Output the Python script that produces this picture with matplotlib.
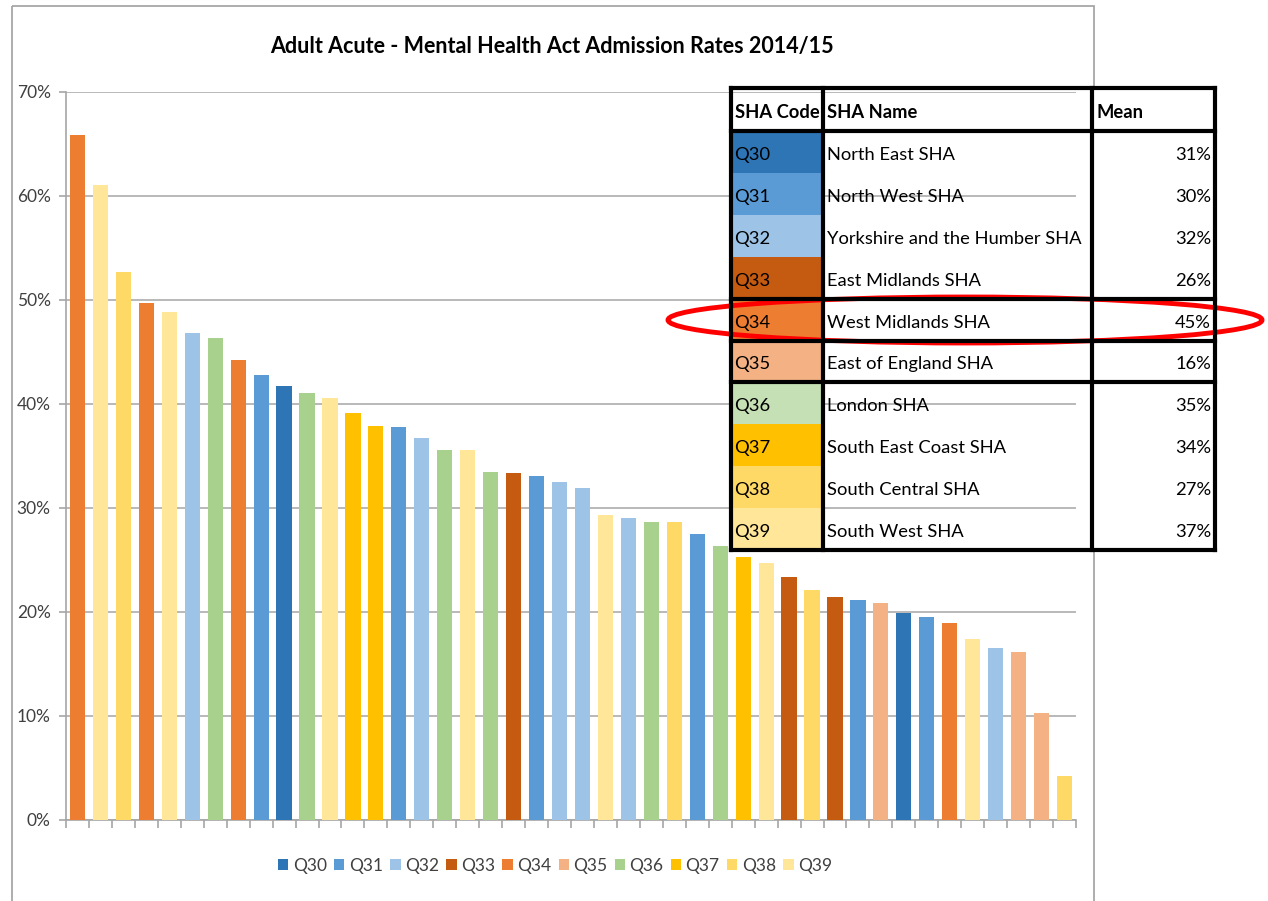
import matplotlib.pyplot as plt
from matplotlib.patches import Patch, Rectangle, Ellipse

plt.rcParams['font.family'] = ['Lato', 'DejaVu Sans']

# data ##########
bar_codes = ['Q34', 'Q39', 'Q38', 'Q34', 'Q39', 'Q32', 'Q36', 'Q34', 'Q31', 'Q30',
             'Q36', 'Q39', 'Q37', 'Q37', 'Q31', 'Q32', 'Q36', 'Q39', 'Q36', 'Q33',
             'Q31', 'Q32', 'Q32', 'Q39', 'Q32', 'Q36', 'Q38', 'Q31', 'Q36', 'Q37',
             'Q39', 'Q33', 'Q38', 'Q33', 'Q31', 'Q35', 'Q30', 'Q31', 'Q34', 'Q39',
             'Q32', 'Q35', 'Q35', 'Q38']
rates = [65.9, 61.1, 52.7, 49.7, 48.8, 46.8, 46.3, 44.2, 42.8, 41.7,
         41.1, 40.6, 39.1, 37.9, 37.8, 36.7, 35.6, 35.6, 33.5, 33.4,
         33.1, 32.5, 31.9, 29.3, 29.0, 28.7, 28.7, 27.5, 26.3, 25.3,
         24.7, 23.4, 22.1, 21.4, 21.15, 20.9, 19.9, 19.5, 18.9, 17.4,
         16.5, 16.2, 10.3, 4.25]

sha_codes = ['Q30', 'Q31', 'Q32', 'Q33', 'Q34', 'Q35', 'Q36', 'Q37', 'Q38', 'Q39']
sha_names = ['North East SHA', 'North West SHA', 'Yorkshire and the Humber SHA',
             'East Midlands SHA', 'West Midlands SHA', 'East of England SHA',
             'London SHA', 'South East Coast SHA', 'South Central SHA', 'South West SHA']
sha_means = ['31%', '30%', '32%', '26%', '45%', '16%', '35%', '34%', '27%', '37%']
#################

colors = {'Q30': '#2E75B6', 'Q31': '#5B9BD5', 'Q32': '#9DC3E6', 'Q33': '#C55A11',
          'Q34': '#ED7D31', 'Q35': '#F4B183', 'Q36': '#A9D18E', 'Q37': '#FFC000',
          'Q38': '#FFD966', 'Q39': '#FFE699'}
table_colors = dict(colors, Q36='#C5E0B4')

W, H = 1268, 901
fig = plt.figure(figsize=(W / 100, H / 100), dpi=100)

ax = fig.add_axes([66 / W, 1 - 820 / H, 1010 / W, 728 / H])
x = range(len(rates))
ax.bar(x, rates, width=0.66, color=[colors[c] for c in bar_codes], zorder=3)
ax.set_xlim(-0.5, len(rates) - 0.5)
ax.set_ylim(0, 70)
ax.set_yticks(range(0, 71, 10))
ax.set_yticklabels([f'{v}%' for v in range(0, 71, 10)], fontsize=12.5, color='#404040')
ax.set_xticks([i - 0.5 for i in range(len(rates) + 1)])
ax.set_xticklabels([])
ax.tick_params(axis='x', length=6, color='#a6a6a6', width=1.2)
ax.tick_params(axis='y', length=5, color='#a6a6a6', width=1.2, pad=6)
ax.grid(axis='y', color='#b3b3b3', lw=1.3, zorder=0)
for s in ['top', 'right']:
    ax.spines[s].set_visible(False)
for s in ['left', 'bottom']:
    ax.spines[s].set_color('#a6a6a6')
    ax.spines[s].set_linewidth(1.2)

fig.text(552 / W, 1 - 46 / H, 'Adult Acute - Mental Health Act Admission Rates 2014/15',
         ha='center', va='center', fontsize=15.5, fontweight='bold', color='#000000')

handles = [Patch(facecolor=colors[c], label=c) for c in sha_codes]
fig.legend(handles=handles, loc='center', bbox_to_anchor=(555 / W, 1 - 866 / H),
           ncol=10, frameon=False, fontsize=12.5, handlelength=0.6, handleheight=0.6,
           handletextpad=0.25, columnspacing=0.42, labelcolor='#404040')

# overlay in pixel coordinates for border, table and highlight
ov = fig.add_axes([0, 0, 1, 1])
ov.set_xlim(0, W)
ov.set_ylim(H, 0)
ov.axis('off')
ov.add_patch(Rectangle((12, 6), 1082, 900, fill=False, ec='#a0a0a0', lw=1.2))

cols = [731, 823, 1092, 1215]
top, head_h, row_h = 88, 43, 41.9
fs = 13.2
ov.add_patch(Rectangle((cols[2], top), cols[3] - cols[2], head_h + 10 * row_h,
                       fc='white', ec='none'))
for xc, label in zip(cols[:3], ['SHA Code', 'SHA Name', 'Mean']):
    ov.text(xc + 4, top + head_h / 2 + 3, label, ha='left', va='center',
            fontsize=fs, fontweight='bold')
for i, (c, n, m) in enumerate(zip(sha_codes, sha_names, sha_means)):
    y0 = top + head_h + i * row_h
    ov.add_patch(Rectangle((cols[0], y0), cols[1] - cols[0], row_h,
                           fc=table_colors[c], ec='none'))
    yc = y0 + row_h / 2 + 3
    ov.text(cols[0] + 3, yc, c, ha='left', va='center', fontsize=fs)
    ov.text(cols[1] + 4, yc, n, ha='left', va='center', fontsize=fs)
    ov.text(cols[3] - 4, yc, m, ha='right', va='center', fontsize=fs)

bottom = top + head_h + 10 * row_h
for xc in cols:
    ov.plot([xc, xc], [top, bottom], color='black', lw=3, solid_capstyle='projecting')
for yl in [top, top + head_h, top + head_h + 4 * row_h, top + head_h + 5 * row_h,
           top + head_h + 6 * row_h, bottom]:
    ov.plot([cols[0], cols[3]], [yl, yl], color='black', lw=3, solid_capstyle='projecting')

ov.add_patch(Ellipse((965, 320), 594, 46, fill=False, ec='#FF0000', lw=3.5))

fig.savefig('out.png', dpi=100)
